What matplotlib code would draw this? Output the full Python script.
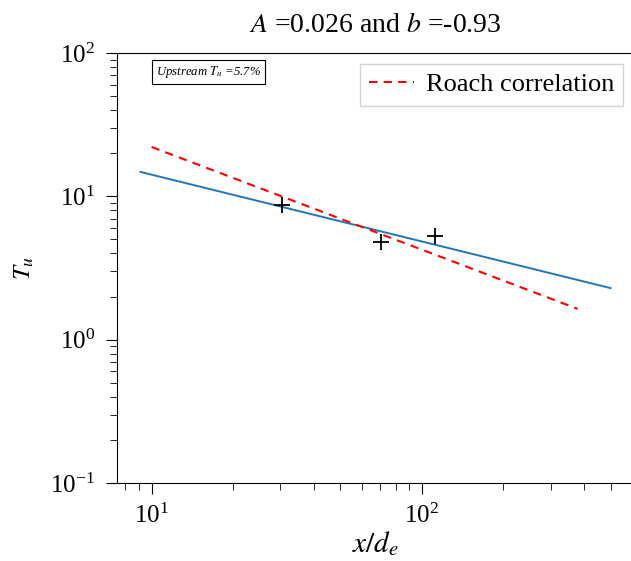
import matplotlib
matplotlib.use("Agg")
import matplotlib.pyplot as plt

plt.rcParams['font.family'] = ['Liberation Serif', 'DejaVu Serif']
plt.rcParams['mathtext.fontset'] = 'stix'

# data
meas_x = [30.3, 70.5, 112.0]
meas_tu = [8.7, 4.8, 5.3]
fit_x = [9.1, 500.0]
fit_tu = [14.8, 2.29]
roach_x = [10.0, 378.0]
roach_tu = [22.1, 1.64]
title_text = r"$A$ =0.026 and $b$ =-0.93"
box_text = r"Upstream $T_u$ =5.7%"

fig = plt.figure(figsize=(6.31, 5.61), dpi=100)
ax = fig.add_axes([117/631, 1-483/561, (634-117)/631, (483-53)/561])

ax.plot(fit_x, fit_tu, color='#1f77b4', lw=1.4)
ax.plot(roach_x, roach_tu, color='red', ls=(0, (4, 3)), lw=1.5, label='Roach correlation')
ax.plot(meas_x, meas_tu, '+', color='black', ms=12, mew=1.3)

ax.set_xscale('log')
ax.set_yscale('log')
ax.set_ylim(0.1, 100)
ax.spines['right'].set_visible(False)

ax.set_title(title_text, fontsize=20, pad=15)
ax.set_xlabel(r"$x/d_e$", fontsize=21, labelpad=1)
ax.set_ylabel(r"$T_u$", fontsize=18, labelpad=10)
ax.tick_params(axis='both', which='major', labelsize=18, length=8, pad=7)
ax.tick_params(axis='y', which='major', pad=8)
ax.tick_params(axis='both', which='minor', length=5)

ax.text(0.075, 0.974, box_text, transform=ax.transAxes, fontsize=9.2, style='italic',
        va='top', ha='left',
        bbox=dict(boxstyle='square,pad=0.3', fc='white', ec='black', lw=0.8))

leg = ax.legend(loc='upper right', fontsize=19, fancybox=False, framealpha=1,
                edgecolor='lightgray', borderaxespad=0.4, handlelength=1.7,
                borderpad=0.35, handletextpad=0.45)

fig.savefig('out.png', dpi=100)
